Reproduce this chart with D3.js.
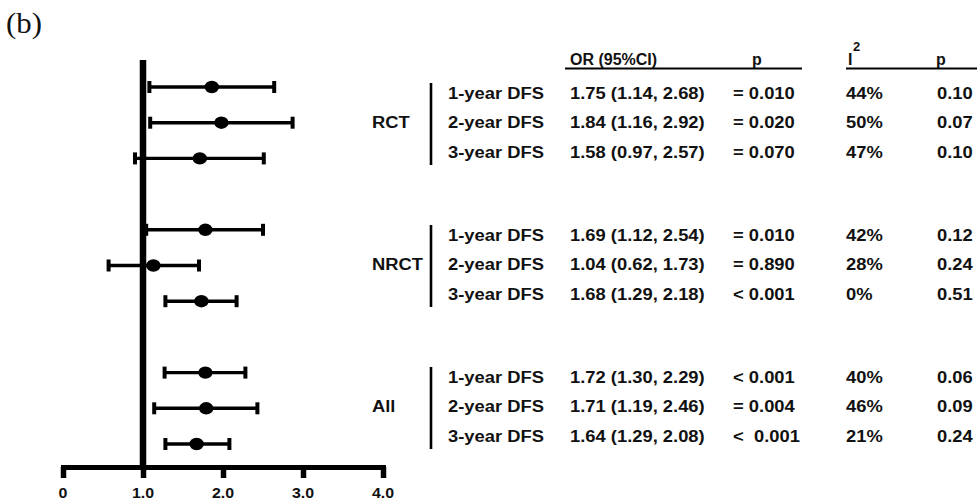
<!DOCTYPE html>
<html>
<head>
<meta charset="utf-8">
<script src="https://cdn.jsdelivr.net/npm/d3@7"></script>
<style>
  html, body { margin: 0; padding: 0; background: #fff; }
  svg { display: block; }
  text { font-family: Arial, "Liberation Sans", sans-serif; font-weight: bold; fill: #111; white-space: pre; }
</style>
</head>
<body>
<svg id="chart" width="977" height="502"></svg>
<script>
// ---- data ----
const groups = ["RCT", "NRCT", "All"];
const outcomes = ["1-year DFS", "2-year DFS", "3-year DFS"];
// plotted values (as drawn), 9 rows: RCT 1-3, NRCT 1-3, All 1-3
const estimates = [1.86, 1.98, 1.71, 1.78, 1.13, 1.73, 1.78, 1.79, 1.67];
const lowers    = [1.08, 1.09, 0.90, 1.04, 0.57, 1.28, 1.27, 1.14, 1.28];
const uppers    = [2.64, 2.87, 2.51, 2.50, 1.70, 2.17, 2.28, 2.43, 2.08];
// table text
const orTexts = ["1.75 (1.14, 2.68)", "1.84 (1.16, 2.92)", "1.58 (0.97, 2.57)",
                 "1.69 (1.12, 2.54)", "1.04 (0.62, 1.73)", "1.68 (1.29, 2.18)",
                 "1.72 (1.30, 2.29)", "1.71 (1.19, 2.46)", "1.64 (1.29, 2.08)"];
const pTexts  = ["= 0.010", "= 0.020", "= 0.070",
                 "= 0.010", "= 0.890", "< 0.001",
                 "< 0.001", "= 0.004", "<  0.001"];
const i2Texts = ["44%", "50%", "47%", "42%", "28%", "0%", "40%", "46%", "21%"];
const hetPTexts = ["0.10", "0.07", "0.10", "0.12", "0.24", "0.51", "0.06", "0.09", "0.24"];
const xTicks = [0, 1, 2, 3, 4];
const xTickLabels = ["0", "1.0", "2.0", "3.0", "4.0"];
const panelLabel = "(b)";

// ---- layout ----
const SX = 1.08; // horizontal stretch of table text
const svg = d3.select("#chart");

const x = d3.scaleLinear().domain([0, 4]).range([63, 383]);
const slot = d3.scaleLinear().domain([0, 10]).range([87, 444]);
const rows = estimates.map((e, i) => ({
  i, g: Math.floor(i / 3), k: i % 3,
  est: e, lo: lowers[i], hi: uppers[i],
  slotIndex: Math.floor(i / 3) * 4 + (i % 3)
}));

function stext(parent, x0, y0, str, size, anchor, family, sx) {
  const s = sx == null ? SX : sx;
  const g = parent.append("g").attr("transform", `translate(${x0},${y0}) scale(${s},1)`);
  const t = g.append("text").attr("x", 0).attr("y", 0)
    .attr("font-size", size).attr("text-anchor", anchor || "start").text(str);
  if (family) t.style("font-family", family).style("font-weight", "normal");
  return t;
}

// panel label
stext(svg, 6, 33, panelLabel, 28.5, "start", "'Liberation Serif', 'Times New Roman', serif");

// ---- plot ----
const plot = svg.append("g");

// x axis (line + ticks via d3 axis, labels drawn with the same scale)
const axisY = 467;
const axis = d3.axisBottom(x).tickValues(xTicks)
  .tickFormat(() => "").tickSize(11).tickSizeOuter(0);
const ag = plot.append("g").attr("transform", `translate(0,${axisY})`).call(axis);
ag.select(".domain").attr("stroke", "#000").attr("stroke-width", 5).attr("stroke-linecap", "square");
ag.selectAll(".tick line").attr("stroke", "#000").attr("stroke-width", 5.5);
xTicks.forEach((t, i) => {
  stext(plot, x(t), 497.5, xTickLabels[i], 15.5, "middle", null, 1.03);
});

// reference line at OR = 1
plot.append("line")
  .attr("x1", x(1)).attr("x2", x(1))
  .attr("y1", 60).attr("y2", axisY)
  .attr("stroke", "#000").attr("stroke-width", 6.5);

// error bars
const capH = 12;
const eb = plot.selectAll("g.row").data(rows).join("g").attr("class", "row")
  .attr("transform", d => `translate(0,${slot(d.slotIndex)})`);
eb.append("line").attr("x1", d => x(d.lo)).attr("x2", d => x(d.hi))
  .attr("y1", 0).attr("y2", 0).attr("stroke", "#000").attr("stroke-width", 3.4);
eb.append("line").attr("x1", d => x(d.lo)).attr("x2", d => x(d.lo))
  .attr("y1", -capH / 2).attr("y2", capH / 2).attr("stroke", "#000").attr("stroke-width", 4);
eb.append("line").attr("x1", d => x(d.hi)).attr("x2", d => x(d.hi))
  .attr("y1", -capH / 2).attr("y2", capH / 2).attr("stroke", "#000").attr("stroke-width", 4);
eb.append("ellipse").attr("cx", d => x(d.est)).attr("cy", 0)
  .attr("rx", 7.2).attr("ry", 6.2).attr("fill", "#000");

// ---- table ----
const tab = svg.append("g");
const groupY = d3.scaleLinear().domain([0, 2]).range([122, 406]);
const rowStep = 29.3;
const rowCenter = d => groupY(d.g) + (d.k - 1) * rowStep;
const FS = 17, base = 6.2;

// header
stext(tab, 570, 65, "OR (95%CI)", 16, "start", null, 1.0);
stext(tab, 757, 65, "p", 16, "middle", null, 1.0);
stext(tab, 848, 65, "I", 16, "start", null, 1.0);
stext(tab, 853, 51, "2", 13, "start", null, 1.0);
stext(tab, 941, 65, "p", 16, "middle", null, 1.0);
tab.append("line").attr("x1", 565).attr("x2", 802).attr("y1", 68.5).attr("y2", 68.5)
  .attr("stroke", "#000").attr("stroke-width", 2);
tab.append("line").attr("x1", 846).attr("x2", 977).attr("y1", 68.5).attr("y2", 68.5)
  .attr("stroke", "#000").attr("stroke-width", 2);

// group labels and brackets
groups.forEach((gname, gi) => {
  const cy = groupY(gi);
  stext(tab, 372, cy + base, gname, FS, "start");
  tab.append("line").attr("x1", 431).attr("x2", 431)
    .attr("y1", cy - 39).attr("y2", cy + 43)
    .attr("stroke", "#000").attr("stroke-width", 2.6);
});

rows.forEach(d => {
  const yb = rowCenter(d) + base;
  stext(tab, 448, yb, outcomes[d.k], FS, "start");
  stext(tab, 570, yb, orTexts[d.i], FS, "start");
  stext(tab, 733, yb, pTexts[d.i], FS, "start");
  stext(tab, 846, yb, i2Texts[d.i], FS, "start");
  stext(tab, 937, yb, hetPTexts[d.i], FS, "start");
});
</script>
</body>
</html>
